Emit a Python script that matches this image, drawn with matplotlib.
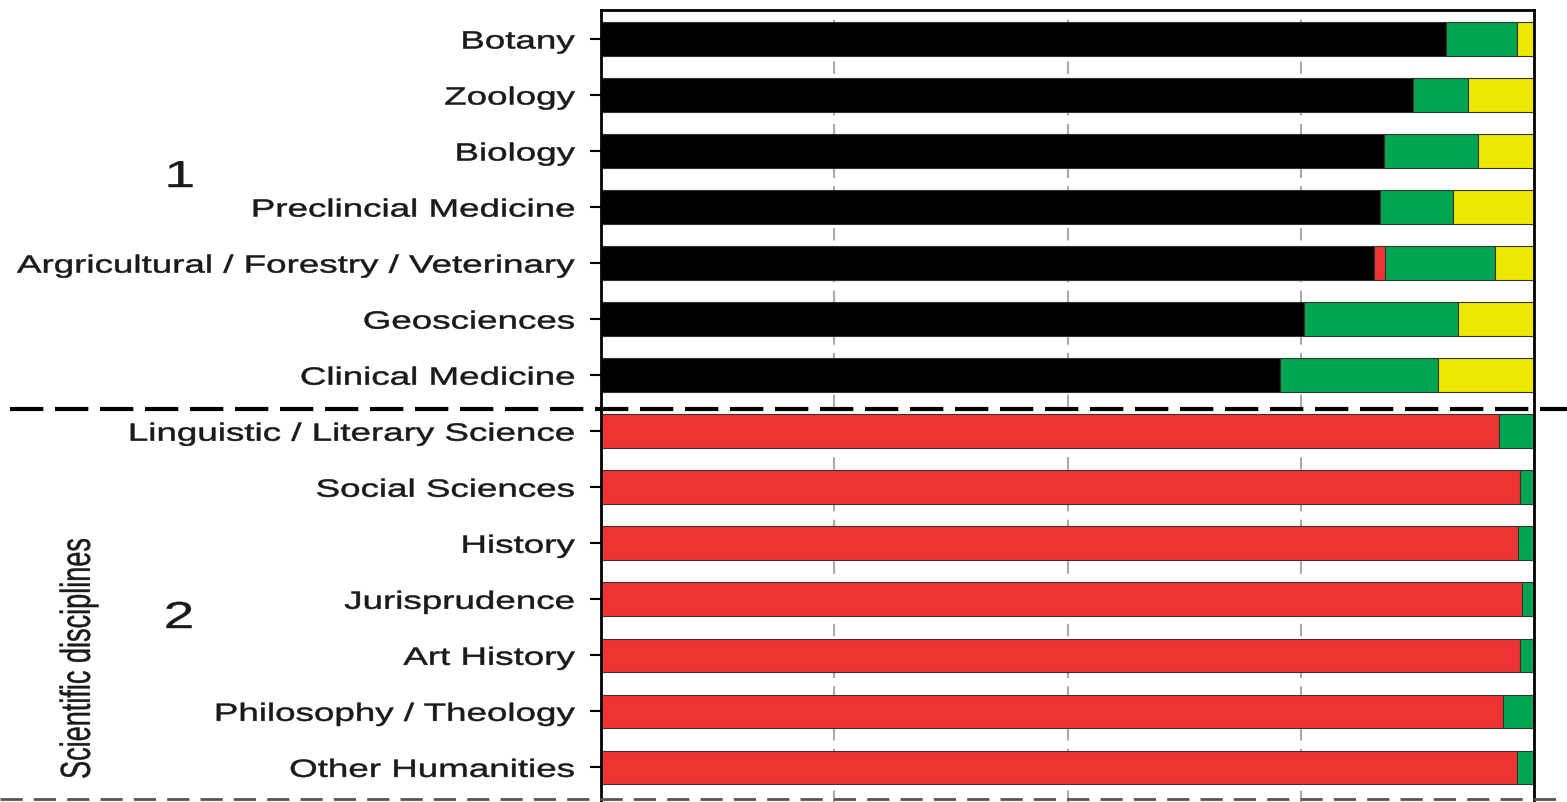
import numpy as np
import matplotlib
matplotlib.use("Agg")
import matplotlib.pyplot as plt
import matplotlib.transforms as mtransforms
from matplotlib.patheffects import AbstractPathEffect

# disciplines, top to bottom
disciplines = ["Botany", "Zoology", "Biology", "Preclincial Medicine",
               "Argricultural / Forestry / Veterinary", "Geosciences",
               "Clinical Medicine", "Linguistic / Literary Science",
               "Social Sciences", "History", "Jurisprudence", "Art History",
               "Philosophy / Theology", "Other Humanities"]

# shares of each category (sum to 1 per row)
black_share = [0.906, 0.870, 0.839, 0.835, 0.829, 0.753, 0.728,
               0, 0, 0, 0, 0, 0, 0]
red_share = [0, 0, 0, 0, 0.011, 0, 0,
             0.963, 0.985, 0.983, 0.987, 0.985, 0.967, 0.982]
green_share = [0.076, 0.059, 0.101, 0.078, 0.118, 0.166, 0.169,
               0.037, 0.015, 0.017, 0.013, 0.015, 0.033, 0.018]
yellow_share = [0.018, 0.071, 0.060, 0.087, 0.042, 0.081, 0.103,
                0, 0, 0, 0, 0, 0, 0]


class HStretch(AbstractPathEffect):
    # the source picture is stretched sideways, so widen the glyphs
    # (and give them a thin outline, the original strokes are a bit heavier)
    def __init__(self, sx, anchor='right', lw=0.35):
        super().__init__()
        self.sx = sx
        self.anchor = anchor
        self.lw = lw

    def draw_path(self, renderer, gc, tpath, affine, rgbFace=None):
        bb = tpath.get_extents(affine)
        x0 = {'right': bb.x1, 'left': bb.x0, 'center': 0.5 * (bb.x0 + bb.x1)}[self.anchor]
        extra = mtransforms.Affine2D().translate(-x0, 0).scale(self.sx, 1).translate(x0, 0)
        gc0 = renderer.new_gc()
        gc0.copy_properties(gc)
        gc0.set_linewidth(self.lw)
        gc0.set_foreground(rgbFace)
        renderer.draw_path(gc0, tpath, affine + extra, rgbFace)
        gc0.restore()


plt.rcParams['font.family'] = ['Liberation Sans', 'DejaVu Sans']
SX = 1.47

W, H = 1567, 803
fig = plt.figure(figsize=(W / 100, H / 100), dpi=100)
ax_bottom_px = 830
ax = fig.add_axes([601 / W, 1 - ax_bottom_px / H, (1534 - 601) / W, (ax_bottom_px - 11) / H])

ypos = np.arange(len(disciplines))
left = np.zeros(len(disciplines))
for vals, col in [(black_share, "#000000"), (red_share, "#EE3333"),
                  (green_share, "#00A550"), (yellow_share, "#EEE800")]:
    vals = np.array(vals)
    ax.barh(ypos, vals, left=left, height=0.6, color=col,
            edgecolor="#333333", linewidth=0.8, zorder=2)
    left += vals

ax.set_xlim(0, 1)
ax.set_ylim(14.1, -0.518)
ax.set_yticks(ypos)
labels = ax.set_yticklabels(disciplines, fontsize=18, color="#1a1a1a")
for lab in labels:
    lab.set_path_effects([HStretch(SX, 'right')])
ax.tick_params(axis='y', length=8, width=1.5, pad=11)
ax.set_xticks([0.25, 0.5, 0.75])
ax.tick_params(axis='x', length=0, labelbottom=False)
ax.grid(axis='x', color="#aaaaaa", linestyle=(0, (6, 4)), linewidth=1.5, zorder=0)
ax.set_axisbelow(True)
for s in ax.spines.values():
    s.set_linewidth(2)

trans = mtransforms.blended_transform_factory(fig.transFigure, ax.transData)
ax.plot([10 / W, 1.0], [6.6, 6.6], transform=trans, color="black",
        linewidth=3, dashes=[8, 2.8], clip_on=False, zorder=5)
ax.plot([0.0, 1.0], [13.57, 13.57], transform=trans, color="#555555",
        linewidth=2, dashes=[8, 4], clip_on=False, zorder=5)

for txt, xp, yp in [("1", 180, 178), ("2", 179, 619)]:
    t = fig.text(xp / W, 1 - yp / H, txt, fontsize=27, ha='center', va='center',
                 color="#1a1a1a")
    t.set_path_effects([HStretch(SX, 'center', lw=0.3)])
t = fig.text(79 / W, 1 - 659 / H, "Scientific disciplines", fontsize=19.5,
             rotation=90, ha='center', va='center', color="#1a1a1a")
t.set_path_effects([HStretch(1.55, 'center', lw=0.3)])

fig.savefig("out.png", dpi=100)
